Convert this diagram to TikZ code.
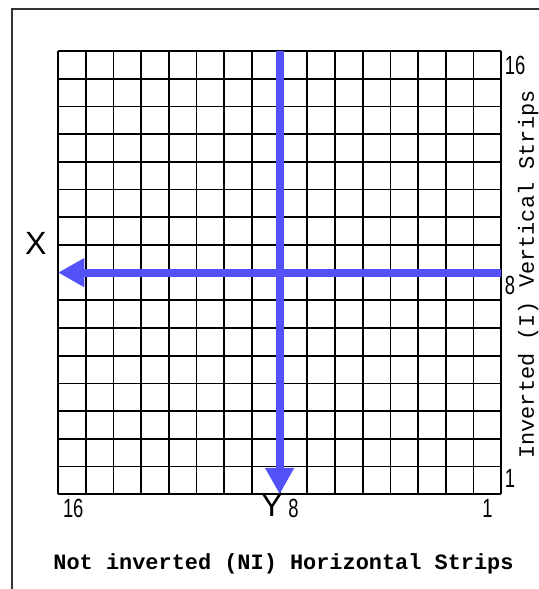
\documentclass[tikz,border=0pt]{standalone}
\usepackage{fontspec}
\setmainfont{Liberation Sans}
\newfontfamily\stripfont{Liberation Mono}
\usepackage{xcolor}
\definecolor{axisblue}{RGB}{82,82,248}
\definecolor{framegray}{HTML}{333333}
\usetikzlibrary{arrows.meta}

\begin{document}
\begin{tikzpicture}[
  gridline/.style={line width=1.8pt,black},
  axisarrow/.style={line width=8pt,axisblue,-{Triangle[width=28pt,length=27pt]}},
  stripnum/.style={inner sep=0pt,font=\fontsize{27}{27}\selectfont},
  axisname/.style={inner sep=0pt,font=\fontsize{33}{33}\selectfont},
  striplabel/.style={inner sep=0pt,font=\stripfont\fontsize{22.5}{22.5}\selectfont}]
\useasboundingbox (-2.094,-3.42) rectangle (17.36,17.84);
% outer frame (cut by the page)
\draw[line width=1.5pt,framegray] (-1.66,-3.5) -- (-1.66,17.52) -- (17.5,17.52);
% 16 x 16 cells
\draw[gridline] (0,0) grid (16,16);
% axes
\coordinate (ytop) at (8,16);
\coordinate (ybot) at (8,0);
\coordinate (xright) at (16,8);
\coordinate (xleft) at (0,8);
\draw[axisarrow] (ytop) -- (ybot);
\draw[axisarrow] (xright) -- (xleft);
\node[axisname] (xname) at (-0.8,9.05) {X};
\node[axisname,anchor=north] (yname) at (7.72,0) {Y};
% strip numbers
\node[stripnum,anchor=north] (col16) at (0.55,-0.17) {\scalebox{0.7}[1]{16}};
\node[stripnum,anchor=north] (col8) at (8.5,-0.17) {\scalebox{0.7}[1]{8}};
\node[stripnum,anchor=north] (col1) at (15.5,-0.17) {\scalebox{0.7}[1]{1}};
\node[stripnum,anchor=west] (row16) at (16.12,15.47) {\scalebox{0.7}[1]{16}};
\node[stripnum,anchor=west] (row8) at (16.12,7.54) {\scalebox{0.7}[1]{8}};
\node[stripnum,anchor=west] (row1) at (16.12,0.56) {\scalebox{0.7}[1]{1}};
% strip names
\node[striplabel,font=\stripfont\bfseries\fontsize{22.5}{22.5}\selectfont] (hstrips) at (8.14,-2.5) {Not inverted (NI) Horizontal Strips};
\node[striplabel,rotate=90,anchor=base] (vstrips) at (17.18,7.93) {Inverted (I) Vertical Strips};
\end{tikzpicture}
\end{document}
